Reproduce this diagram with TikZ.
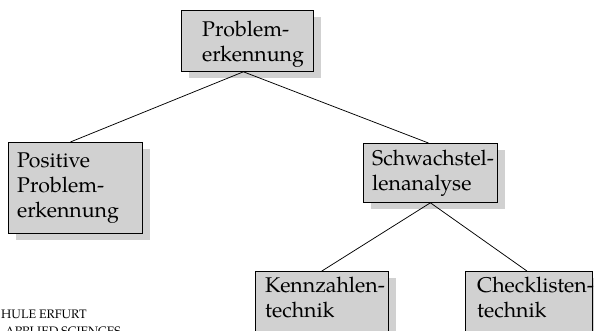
\documentclass[tikz,border=0pt]{standalone}
\usepackage{fontspec}
\setmainfont{TeX Gyre Pagella}
\usetikzlibrary{shadows}
\begin{document}
\begin{tikzpicture}[x=1pt,y=1pt,
  box/.style={draw=black, line width=0.8pt, fill=gray!36, rectangle, inner sep=0pt,
    anchor=north west,
    drop shadow={shadow xshift=8pt, shadow yshift=-7pt, fill=gray!36, opacity=1}},
  lbl/.style={anchor=base west, inner sep=0pt, font=\fontsize{21.3}{24}\selectfont},
  link/.style={line width=0.75pt, black},
  foot/.style={anchor=base west, inner sep=0pt, font=\fontsize{12.3}{14}\selectfont}]
\useasboundingbox (0,0) rectangle (594,-331);

% boxes of the tree
\node[box, minimum width=132pt, minimum height=61pt] (top) at (181,-10) {};
\node[box, minimum width=134pt, minimum height=91pt] (pos) at (8,-142) {};
\node[box, minimum width=134pt, minimum height=59pt] (schw) at (363,-143) {};
\node[box, minimum width=133pt, minimum height=75pt] (kenn) at (255,-271) {};
\node[box, minimum width=127pt, minimum height=75pt] (check) at (465,-271) {};

% labels
\node[lbl] (t1) at (202,-37) {Problem-};
\node[lbl] (t2) at (202,-62) {erkennung};
\node[lbl] (p1) at (17,-168) {Positive};
\node[lbl] (p2) at (17,-193) {Problem-};
\node[lbl] (p3) at (17,-217) {erkennung};
\node[lbl] (s1) at (372,-166) {Schwachstel-};
\node[lbl] (s2) at (372,-191) {lenanalyse};
\node[lbl] (k1) at (265,-292) {Kennzahlen-};
\node[lbl] (k2) at (265,-317) {technik};
\node[lbl] (c1) at (477,-292) {Checklisten-};
\node[lbl] (c2) at (477,-317) {technik};

% connectors
\draw[link] ([xshift=-4pt]top.south) -- ([xshift=-5pt]pos.north);
\draw[link] ([xshift=-4pt]top.south) -- ([xshift=-2pt]schw.north);
\draw[link] (schw.south) -- (kenn.north);
\draw[link] (schw.south) -- ([xshift=-2pt]check.north);

% footer, running off the lower edge
\node[foot] (f1) at (1,-318) {HULE ERFURT};
\node[foot] (f2) at (5,-335.5) {APPLIED SCIENCES};
\end{tikzpicture}
\end{document}
